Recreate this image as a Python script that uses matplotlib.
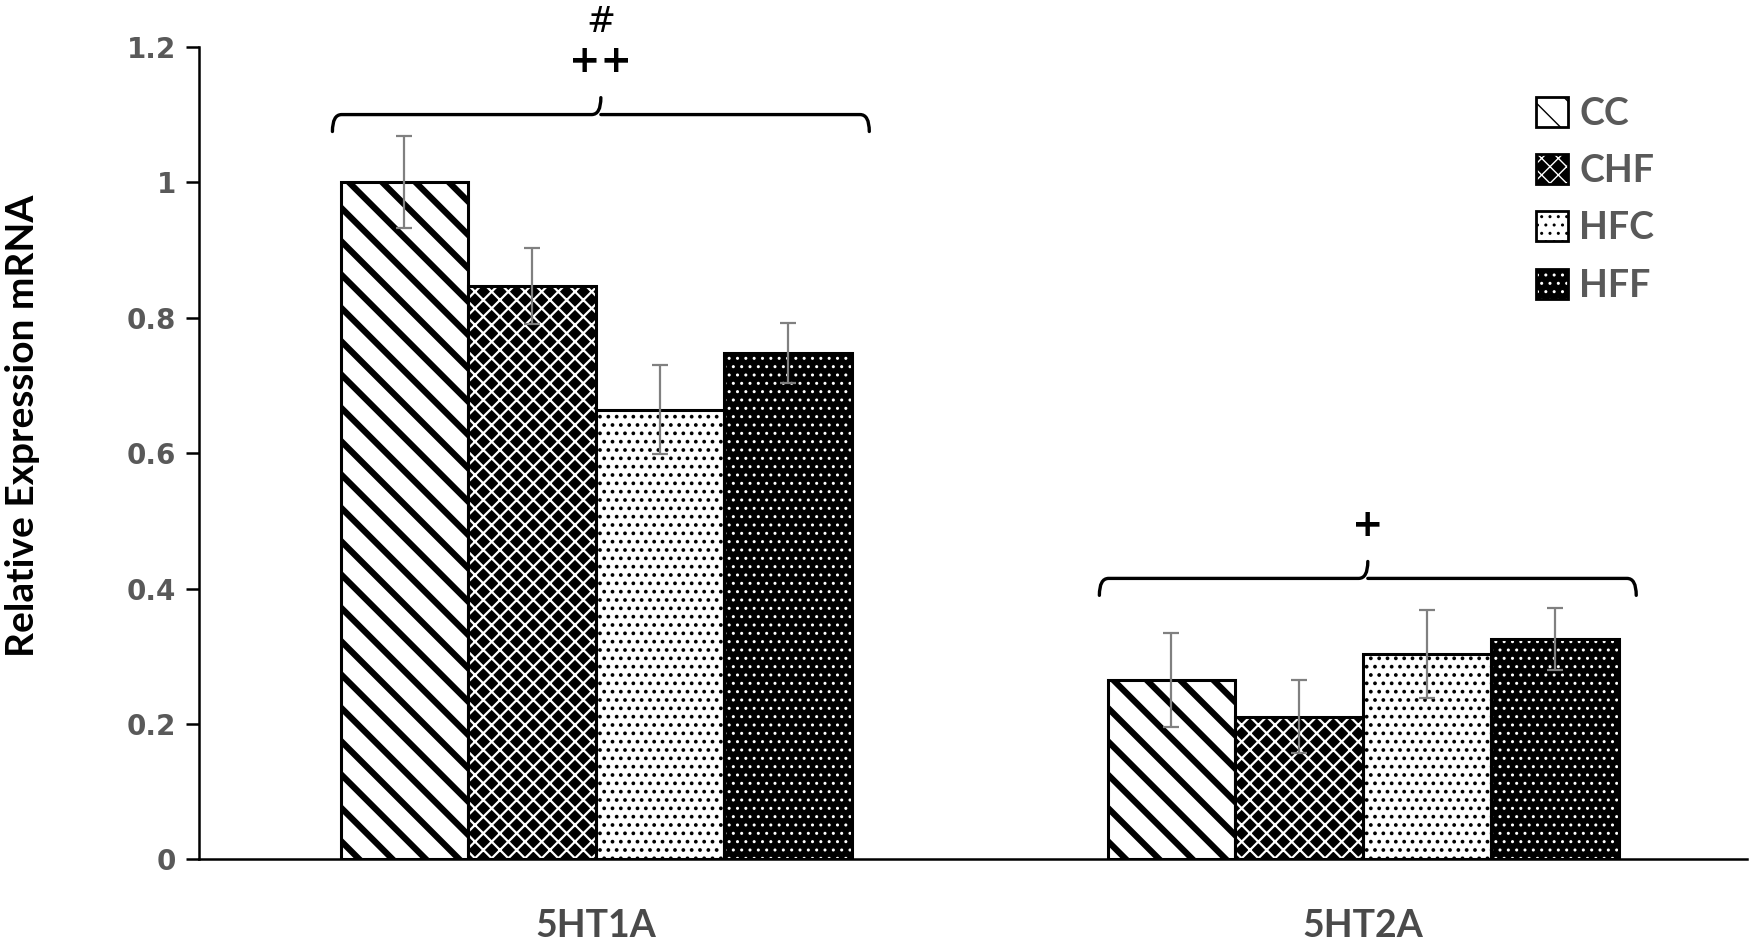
import matplotlib
matplotlib.use("Agg")
import matplotlib.pyplot as plt
import numpy as np
from matplotlib.path import Path
from matplotlib.patches import PathPatch, Patch

# ---- data ----
genes = ["5HT1A", "5HT2A"]
groups = ["CC", "CHF", "HFC", "HFF"]
means = {
    "CC":  [1.000, 0.265],
    "CHF": [0.847, 0.211],
    "HFC": [0.664, 0.303],
    "HFF": [0.748, 0.325],
}
errors = {
    "CC":  [0.068, 0.070],
    "CHF": [0.056, 0.054],
    "HFC": [0.066, 0.065],
    "HFF": [0.044, 0.046],
}
yticks = [0, 0.2, 0.4, 0.6, 0.8, 1.0, 1.2]
ytick_labels = ["0", "0.2", "0.4", "0.6", "0.8", "1", "1.2"]
bracket_y = [1.100, 0.415]
bracket_marks = [["++", "#"], ["+"]]

# ---- styles ----
styles = {
    "CC":  dict(face="white", hatch="\\", hcol="black", hlw=4.5),
    "CHF": dict(face="black", hatch="xx", hcol="white", hlw=1.6),
    "HFC": dict(face="white", hatch="..", hcol="black", hlw=1.5),
    "HFF": dict(face="black", hatch="..", hcol="white", hlw=1.0),
}

fig = plt.figure(figsize=(17.5, 9.41), dpi=100)
ax = fig.add_axes([0.1137, 0.0867, 0.8844, 0.8635])

x = np.arange(len(genes))
width = 0.1667
offsets = (np.arange(len(groups)) - 1.5) * width

handles = []
for i, g in enumerate(groups):
    st = styles[g]
    with plt.rc_context({"hatch.linewidth": st["hlw"]}):
        bars = ax.bar(x + offsets[i], means[g], width, color=st["face"],
                      edgecolor=st["hcol"], hatch=st["hatch"], linewidth=0,
                      zorder=2)
        for b in bars:
            if hasattr(b, "set_hatch_linewidth"):
                b.set_hatch_linewidth(st["hlw"])
        hp = Patch(facecolor=st["face"], edgecolor=st["hcol"], hatch=st["hatch"], linewidth=0)
        if hasattr(hp, "set_hatch_linewidth"):
            hp.set_hatch_linewidth(st["hlw"])
    ax.bar(x + offsets[i], means[g], width, fill=False, edgecolor="black",
           linewidth=2.2, zorder=3)
    ax.errorbar(x + offsets[i], means[g], yerr=errors[g], fmt="none",
                ecolor="#808080", elinewidth=1.6, capsize=6, capthick=1.6, zorder=4)
    op = Patch(facecolor="none", edgecolor="black", linewidth=2.0)
    handles.append((hp, op))

ax.set_xlim(-0.518, 1.50)
ax.set_ylim(0, 1.2)
ax.set_yticks(yticks)
ax.set_yticklabels(ytick_labels)
ax.set_xticks(x)
ax.set_xticklabels(genes)

for s in ["top", "right"]:
    ax.spines[s].set_visible(False)
for s in ["left", "bottom"]:
    ax.spines[s].set_linewidth(1.8)
ax.tick_params(axis="y", direction="out", length=9.5, width=1.8, pad=7,
               labelsize=20, labelcolor="#595959")
ax.tick_params(axis="x", length=0, pad=36, labelsize=27, labelcolor="#4a4a4a")
for t in ax.get_yticklabels():
    t.set_fontweight("bold")
    t.set_family(["DejaVu Sans"])
for t in ax.get_xticklabels():
    t.set_family(["Lato", "DejaVu Sans"])
    t.set_fontweight("bold")

fig.text(0.013, 0.548, "Relative Expression mRNA", rotation=90, ha="center",
         va="center", fontsize=28, fontweight="bold",
         family=["Lato", "DejaVu Sans"], color="black")

# ---- brackets ----
half = 0.35
for gi, yb in enumerate(bracket_y):
    c = x[gi] + 0.006
    d = 0.025
    r = 0.012
    xl, xr = c - half, c + half
    verts = [
        (xl, yb - d), (xl, yb), (xl + r, yb),
        (c - r, yb), (c, yb), (c, yb + d),
        (c, yb), (c + r, yb),
        (xr - r, yb), (xr, yb), (xr, yb - d),
    ]
    codes = [Path.MOVETO, Path.CURVE3, Path.CURVE3,
             Path.LINETO, Path.CURVE3, Path.CURVE3,
             Path.MOVETO, Path.LINETO,
             Path.LINETO, Path.CURVE3, Path.CURVE3]
    ax.add_patch(PathPatch(Path(verts, codes), fill=False, lw=2.4,
                           edgecolor="black", zorder=5, capstyle="round"))
    marks = bracket_marks[gi]
    ax.text(c, yb + 0.078, marks[0], ha="center", va="center",
            fontsize=27, fontweight="bold", color="black")
    if len(marks) > 1:
        ax.text(c, yb + 0.137, marks[1], ha="center", va="center",
                fontsize=25, color="black")

leg = ax.legend(handles, groups, loc="upper left", bbox_to_anchor=(0.842, 0.98),
                frameon=False, handlelength=0.85, handleheight=0.85,
                handletextpad=0.3, labelspacing=0.62,
                prop={"family": ["Lato", "DejaVu Sans"], "weight": "bold", "size": 27})
for t in leg.get_texts():
    t.set_color("#595959")

fig.savefig("out.png", dpi=100)
